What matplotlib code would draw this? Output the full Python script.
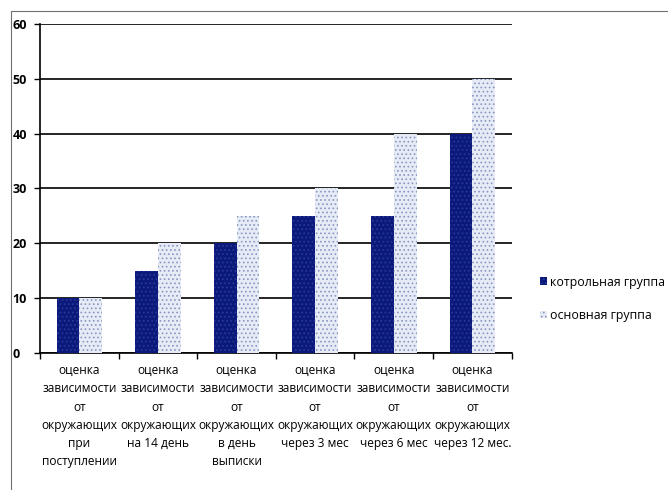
import numpy as np
import matplotlib
matplotlib.use('Agg')
import matplotlib.pyplot as plt
from matplotlib.patches import Rectangle

plt.rcParams['font.family'] = ['Open Sans', 'DejaVu Sans']
plt.rcParams['hatch.linewidth'] = 0.7

categories = [
    'оценка\nзависимости\nот\nокружающих\nпри\nпоступлении',
    'оценка\nзависимости\nот\nокружающих\nна 14 день',
    'оценка\nзависимости\nот\nокружающих\nв день\nвыписки',
    'оценка\nзависимости\nот\nокружающих\nчерез 3 мес',
    'оценка\nзависимости\nот\nокружающих\nчерез 6 мес',
    'оценка\nзависимости\nот\nокружающих\nчерез 12 мес.',
]
control = [10, 15, 20, 25, 25, 40]
main = [10, 20, 25, 30, 40, 50]
series_names = ['котрольная группа', 'основная группа']
yticks = [0, 10, 20, 30, 40, 50, 60]

fig = plt.figure(figsize=(6.68, 4.90), dpi=100)
ax = fig.add_axes([0.06, 0.2796, 0.706, 0.6715])

# рамка вокруг всей картинки
fig.patches.append(Rectangle((11 / 668, -0.1), 1.2, 1.1 - 11 / 490,
                             transform=fig.transFigure, fill=False,
                             edgecolor='#707070', linewidth=0.8))

x = np.arange(len(categories))
w = 0.29
ax.bar(x - w / 2, control, w, color='#0b1a7a', edgecolor='#2a3a9a',
       hatch='....', linewidth=0, label=series_names[0], zorder=3)
ax.bar(x + w / 2, main, w, color='#e6ebf6', edgecolor='#8797c4',
       hatch='....', linewidth=0, label=series_names[1], zorder=3)

ax.set_xlim(-0.5, len(categories) - 0.5)
ax.set_ylim(0, 60)
ax.set_yticks(yticks)
ax.set_yticklabels([str(v) for v in yticks], fontsize=9, fontweight='bold')
ax.tick_params(axis='y', length=4, width=1, pad=16, direction='out')
for lbl in ax.get_yticklabels():
    lbl.set_horizontalalignment('left')

ax.set_xticks(x)
ax.set_xticklabels(categories, fontsize=8.6, linespacing=1.52)
ax.tick_params(axis='x', length=0, pad=8)
ax.set_xticks(np.arange(-0.5, len(categories), 1), minor=True)
ax.tick_params(axis='x', which='minor', length=4, width=1, direction='out')

ax.yaxis.grid(True, color='black', linewidth=1.2, zorder=0)
ax.set_axisbelow(True)
for side in ['top', 'right']:
    ax.spines[side].set_visible(False)
ax.spines['left'].set_linewidth(1.2)
ax.spines['bottom'].set_linewidth(1.2)

ax.legend(loc='center left', bbox_to_anchor=(1.059, 0.165), frameon=False,
          fontsize=8.9, handlelength=0.6, handleheight=0.6,
          handletextpad=0.25, labelspacing=1.65, borderpad=0, borderaxespad=0)

fig.savefig('out.png', dpi=100)
